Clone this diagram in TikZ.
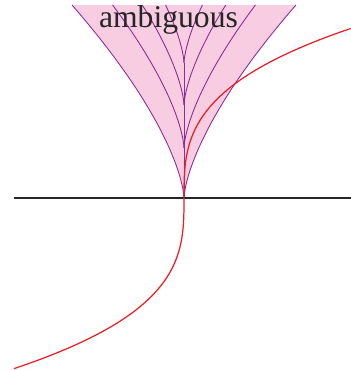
\documentclass[tikz,border=0pt]{standalone}
\usepackage{fontspec}
\setmainfont{Liberation Serif}
\definecolor{fanpink}{RGB}{248,204,225}
\definecolor{fanpurple}{RGB}{140,45,150}
\definecolor{solred}{RGB}{237,28,36}
\newcommand{\cuspc}{0.04177}
\begin{document}
\begin{tikzpicture}[x=0.02cm, y=0.02cm,
  fan/.style={draw=fanpurple, line width=0.5pt},
  sol/.style={draw=solred, line width=0.7pt},
  axisline/.style={draw=black!85, line width=0.7pt},
  lab/.style={text=black!85, font=\fontsize{18}{20}\selectfont}]
\useasboundingbox (-184,-172) rectangle (167,198);
% ambiguous region
\fill[fanpink] plot[domain=193:0, samples=60, variable=\s] ({-\cuspc*\s*sqrt(\s)}, \s)
  -- plot[domain=0:193, samples=60, variable=\s] ({\cuspc*\s*sqrt(\s)}, \s) -- cycle;
% branching solutions
\draw[fan] (0,0) -- (0,135);
\foreach \hb in {0,50,93,135} {
  \draw[fan] plot[domain=\hb:193, samples=50, variable=\s] ({-\cuspc*(\s-\hb)*sqrt(\s-\hb)}, \s);
  \draw[fan] plot[domain=\hb:193, samples=50, variable=\s] ({\cuspc*(\s-\hb)*sqrt(\s-\hb)}, \s);
}
\draw[axisline] (-170,0) -- (167,0);
% cube-root solution
\draw[sol] plot[domain=-5.54:5.505, samples=120, variable=\t] ({\t*\t*\t}, {30.8*\t});
\node[lab, anchor=base] (amb) at (-15.5,170.5) {ambiguous};
\end{tikzpicture}
\end{document}
